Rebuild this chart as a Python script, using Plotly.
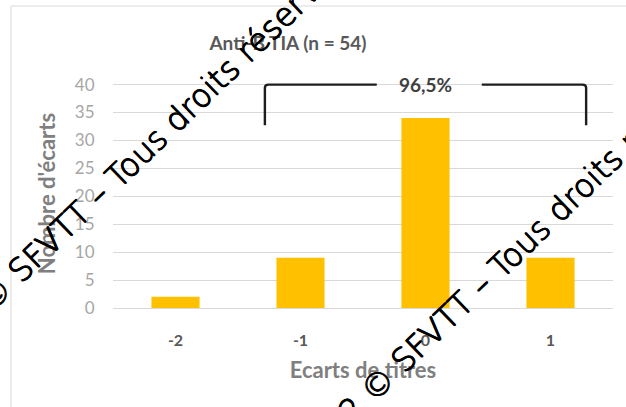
import plotly.graph_objects as go

# Histogram of titre differences
gaps = [-2, -1, 0, 1]
counts = [2, 9, 34, 9]
tick_text = ["-2", "-1", "0", "1"]
share_label = "96,5%"
title_text = "Anti-B TIA (n = 54)"
x_title = "Ecarts de titres"
y_title = "Nombre d'écarts"
watermark = "2022 © SFVTT – Tous droits réservés"

# Figure geometry (px)
W, H = 626, 407
L, R, T, B = 113, 13, 79, 99
plot_w = W - L - R
plot_h = H - T - B


def to_paper(px, py):
    return (px - L) / plot_w, (H - B - py) / plot_h


fig = go.Figure(
    go.Bar(
        x=gaps,
        y=counts,
        width=0.385,
        marker=dict(color="#FFC000", line=dict(width=0)),
        hoverinfo="skip",
    )
)

# Bracket spanning the -1 .. 1 categories
br_from, br_to = gaps[1], gaps[3]
pad = 0.285
yt, yb = 40, 32.7
rx, ry = 0.03, 0.55
xl, xr = br_from - pad, br_to + pad
gap_l, gap_r = -0.39, 0.45
bracket_style = dict(color="#1e1e1e", width=2.4)
fig.add_shape(
    type="path",
    xref="x", yref="y",
    path=f"M {xl},{yb} L {xl},{yt - ry} Q {xl},{yt} {xl + rx},{yt} L {gap_l},{yt}",
    line=bracket_style,
)
fig.add_shape(
    type="path",
    xref="x", yref="y",
    path=f"M {gap_r},{yt} L {xr - rx},{yt} Q {xr},{yt} {xr},{yt - ry} L {xr},{yb}",
    line=bracket_style,
)
fig.add_annotation(
    x=0, y=40, xref="x", yref="y",
    text=share_label, showarrow=False,
    font=dict(family="Lato", size=19, color="#404040", weight=700),
    xanchor="center", yanchor="middle",
)

# Chart frame
fx0, fy1 = to_paper(11, 6)
fig.add_shape(
    type="rect", xref="paper", yref="paper",
    x0=fx0, x1=1.2, y0=-0.6, y1=fy1,
    line=dict(color="#d9d9d9", width=1), fillcolor="rgba(0,0,0,0)",
    layer="below",
)

# Copyright overlay (thin face, slightly thickened with a tight text shadow)
thicken = "0.6px 0 0 #000, -0.6px 0 0 #000, 0 0.6px 0 #000, 0 -0.6px 0 #000"
for cx, cy in [(129, 165), (512, 255)]:
    px, py = to_paper(cx, cy)
    fig.add_annotation(
        x=px, y=py, xref="paper", yref="paper",
        text=watermark, showarrow=False, textangle=-44,
        font=dict(family="DejaVu Sans", size=32, color="#000000",
                  weight=200, shadow=thicken),
        xanchor="center", yanchor="middle",
    )

fig.update_layout(
    width=W, height=H,
    margin=dict(l=L, r=R, t=T, b=B, pad=0),
    paper_bgcolor="white", plot_bgcolor="white",
    showlegend=False,
    title=dict(
        text=title_text,
        xref="container", yref="container",
        x=288 / W, y=1 - 43 / H,
        xanchor="center", yanchor="middle",
        font=dict(family="Lato", size=19, color="#595959", weight=700),
    ),
    xaxis=dict(
        range=[-2.5, 1.5],
        tickmode="array", tickvals=gaps, ticktext=tick_text,
        showgrid=False, zeroline=False, showline=False,
        ticks="outside", ticklen=18, tickcolor="rgba(0,0,0,0)",
        tickfont=dict(family="Lato", size=16, color="#595959", weight=700),
        title=dict(
            text=x_title, standoff=14,
            font=dict(family="Lato", size=22, color="#7f7f7f", weight=700),
        ),
    ),
    yaxis=dict(
        range=[0, 41],
        tickmode="linear", tick0=0, dtick=5,
        showgrid=True, gridcolor="#d9d9d9", gridwidth=1,
        zeroline=True, zerolinecolor="#d9d9d9", zerolinewidth=1,
        showline=False,
        ticks="outside", ticklen=14, tickcolor="rgba(0,0,0,0)",
        tickfont=dict(family="Lato", size=17, color="#a6a6a6"),
        title=dict(
            text=y_title, standoff=13,
            font=dict(family="Lato", size=22, color="#7f7f7f", weight=700),
        ),
    ),
)

fig.write_html("out.html")
